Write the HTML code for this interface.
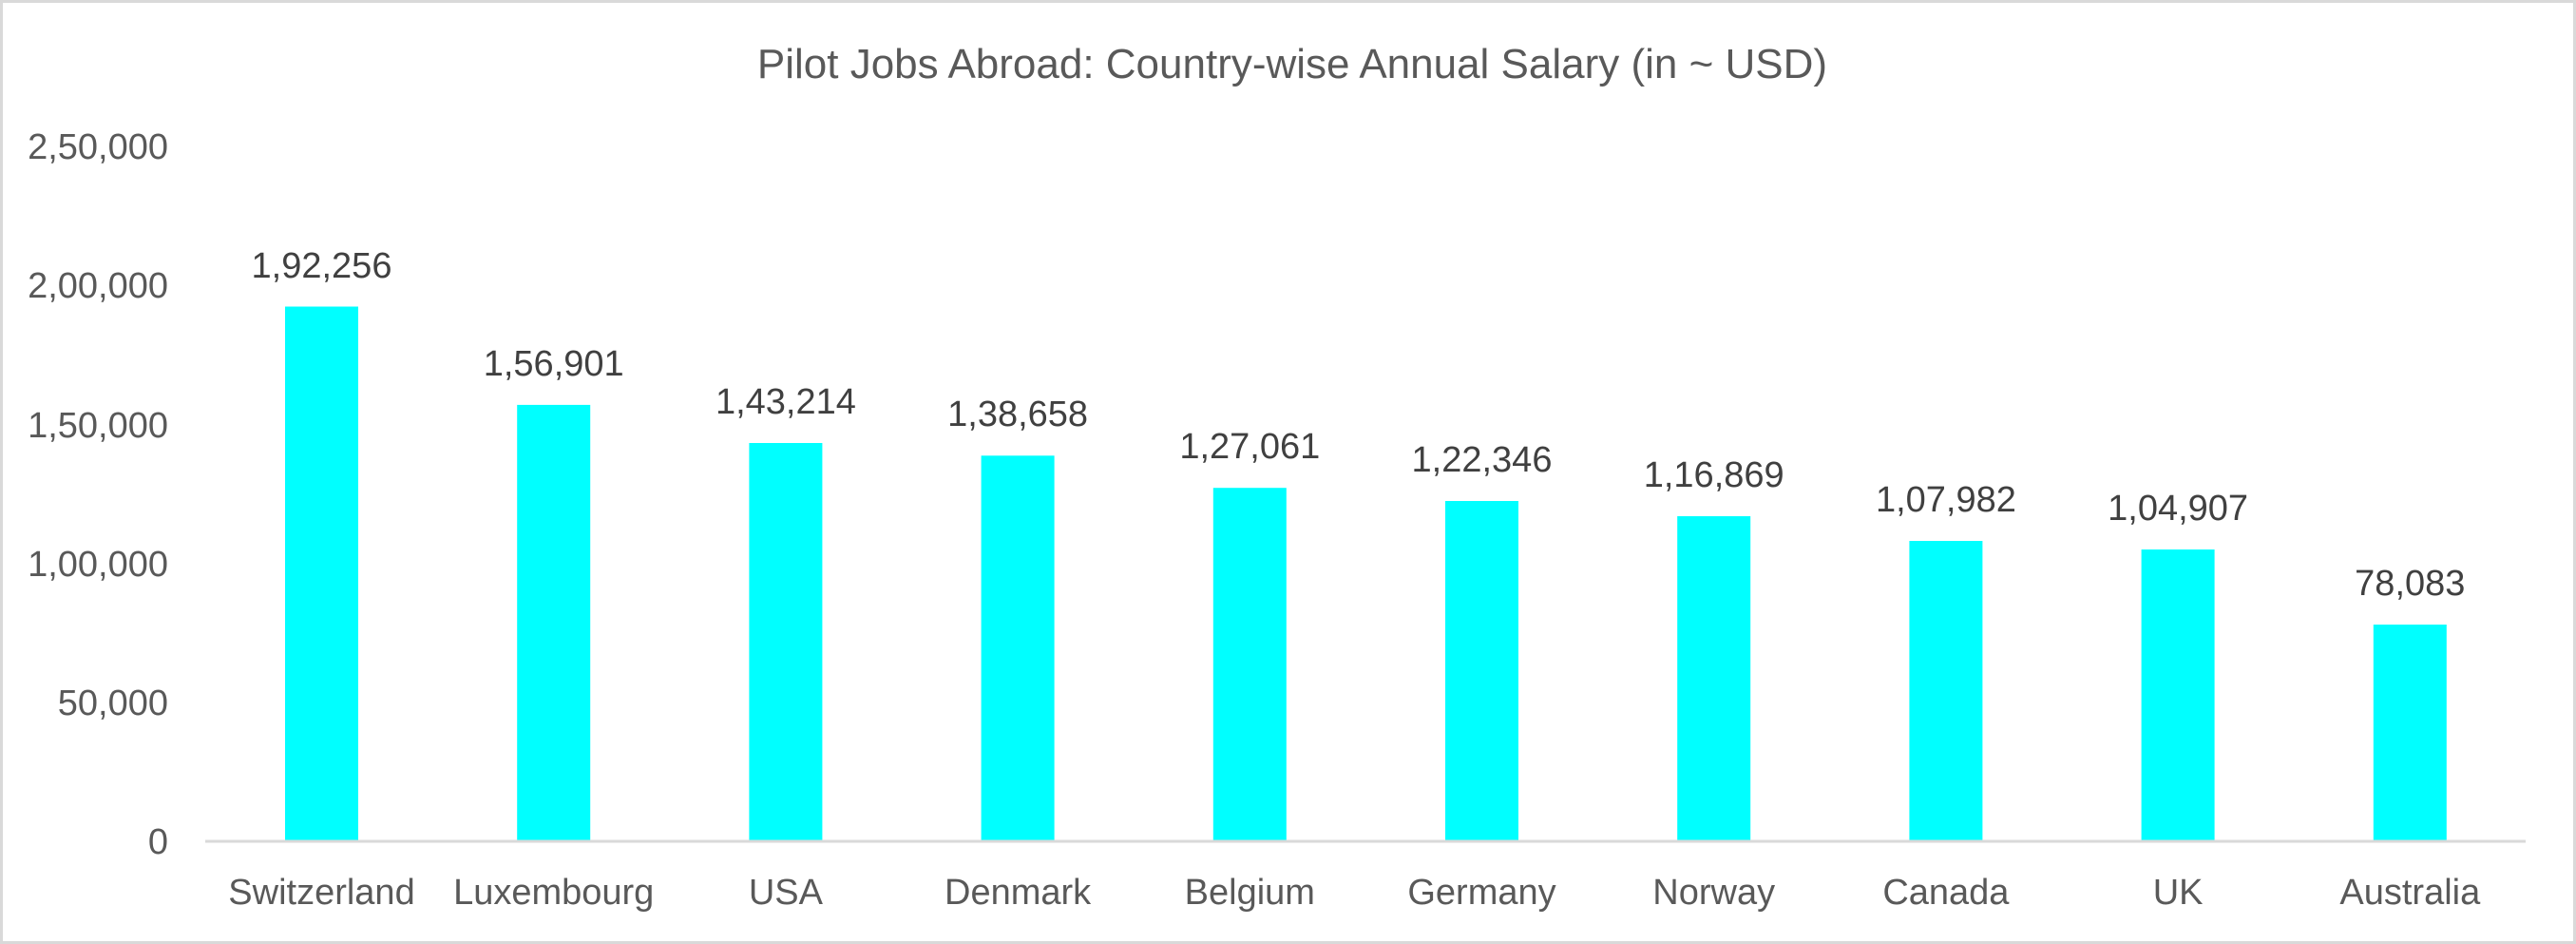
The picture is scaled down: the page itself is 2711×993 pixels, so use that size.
<!DOCTYPE html>
<html><head><style>
html,body{margin:0;padding:0;background:#fff;}
svg{display:block;}
text{font-family:"Liberation Sans",sans-serif;}
</style></head><body>
<svg width="2711" height="993" viewBox="0 0 2711 993" xmlns="http://www.w3.org/2000/svg">
<rect x="1.5" y="1.5" width="2708" height="990" fill="#fff" stroke="#d9d9d9" stroke-width="3"/>
<text x="1360" y="82" text-anchor="middle" font-size="44" fill="#595959">Pilot Jobs Abroad: Country-wise Annual Salary (in ~ USD)</text>
<g font-size="38" fill="#595959" text-anchor="end">
<text x="177" y="898">0</text>
<text x="177" y="752">50,000</text>
<text x="177" y="606">1,00,000</text>
<text x="177" y="460">1,50,000</text>
<text x="177" y="313">2,00,000</text>
<text x="177" y="167">2,50,000</text>
</g>
<line x1="216" y1="885" x2="2658" y2="885" stroke="#d9d9d9" stroke-width="3"/>
<g fill="#00ffff">
<rect x="300" y="322.5" width="77" height="561"/>
<rect x="544.2" y="425.9" width="77" height="457.6"/>
<rect x="788.4" y="466" width="77" height="417.5"/>
<rect x="1032.6" y="479.3" width="77" height="404.2"/>
<rect x="1276.8" y="513.2" width="77" height="370.3"/>
<rect x="1521" y="527" width="77" height="356.5"/>
<rect x="1765.2" y="543" width="77" height="340.5"/>
<rect x="2009.4" y="569" width="77" height="314.5"/>
<rect x="2253.6" y="578" width="77" height="305.5"/>
<rect x="2497.8" y="657" width="77" height="226.5"/>
</g>
<g font-size="38" fill="#404040" text-anchor="middle">
<text x="338.5" y="292">1,92,256</text>
<text x="582.7" y="395">1,56,901</text>
<text x="826.9" y="435">1,43,214</text>
<text x="1071.1" y="448">1,38,658</text>
<text x="1315.3" y="482">1,27,061</text>
<text x="1559.5" y="496">1,22,346</text>
<text x="1803.7" y="512">1,16,869</text>
<text x="2047.9" y="538">1,07,982</text>
<text x="2292.1" y="547">1,04,907</text>
<text x="2536.3" y="626">78,083</text>
</g>
<g font-size="38" fill="#595959" text-anchor="middle">
<text x="338.5" y="951">Switzerland</text>
<text x="582.7" y="951">Luxembourg</text>
<text x="826.9" y="951">USA</text>
<text x="1071.1" y="951">Denmark</text>
<text x="1315.3" y="951">Belgium</text>
<text x="1559.5" y="951">Germany</text>
<text x="1803.7" y="951">Norway</text>
<text x="2047.9" y="951">Canada</text>
<text x="2292.1" y="951">UK</text>
<text x="2536.3" y="951">Australia</text>
</g>
</svg>
</body></html>
